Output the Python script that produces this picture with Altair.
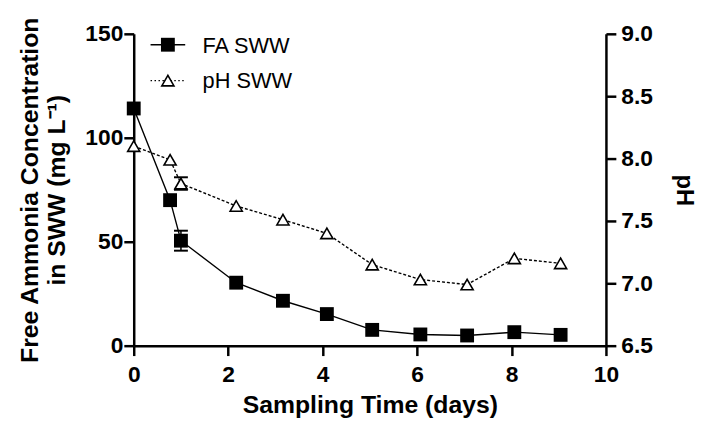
import altair as alt
import pandas as pd

# ---- data ----
days = [0, 0.77, 1.0, 2.17, 3.16, 4.09, 5.05, 6.07, 7.06, 8.06, 9.04]
fa_sww = [114.1, 70.0, 50.5, 30.3, 21.6, 15.2, 7.6, 5.4, 4.9, 6.5, 5.2]
ph_sww = [8.10, 7.99, 7.80, 7.62, 7.51, 7.40, 7.15, 7.03, 6.99, 7.20, 7.16]

err_day = [1.0]
fa_err = [4.8]
ph_err = [0.05]

x_ticks = [0, 2, 4, 6, 8, 10]
fa_ticks = [0, 50, 100, 150]
ph_ticks = [6.5, 7.0, 7.5, 8.0, 8.5, 9.0]

series_names = ["FA SWW", "pH SWW"]

FONT = "Liberation Sans"

df = pd.DataFrame({"day": days, "fa": fa_sww, "ph": ph_sww})
fa_at = [fa_sww[days.index(d)] for d in err_day]
ph_at = [ph_sww[days.index(d)] for d in err_day]
err = pd.DataFrame({
    "day": err_day,
    "fa_lo": [f - e for f, e in zip(fa_at, fa_err)],
    "fa_hi": [f + e for f, e in zip(fa_at, fa_err)],
    "ph_lo": [p - e for p, e in zip(ph_at, ph_err)],
    "ph_hi": [p + e for p, e in zip(ph_at, ph_err)],
})

x_enc = alt.X(
    "day:Q",
    scale=alt.Scale(domain=[0, 10], nice=False, zero=False),
    axis=alt.Axis(
        values=x_ticks, format="d", title="Sampling Time (days)",
        grid=False, labelFlush=False, labelOverlap=False,
        tickSize=10, tickWidth=2.5, domainWidth=2.5, labelPadding=8,
        labelFontSize=23, labelFontWeight="bold", labelFont=FONT,
        titleFontSize=25, titleFontWeight="bold", titleFont=FONT,
        titleX=238.5, titleY=68, titleBaseline="alphabetic", titleAlign="center",
        domainColor="black", tickColor="black", labelColor="black", titleColor="black",
    ),
)

fa_scale = alt.Scale(domain=[0, 150], nice=False, zero=False)
ph_scale = alt.Scale(domain=[6.5, 9.0], nice=False, zero=False)

fa_axis = alt.Axis(
    orient="left", values=fa_ticks, format="d",
    title=["Free Ammonia Concentration", "in SWW (mg L\u207b\u00b9)"],
    grid=False, labelFlush=False, labelOverlap=False,
    tickSize=10, tickWidth=2.5, domainWidth=2.5, labelPadding=1,
    labelFontSize=23, labelFontWeight="bold", labelFont=FONT,
    titleFontSize=25, titleFontWeight="bold", titleFont=FONT,
    titleAngle=270, titleX=-97, titleY=157.5, titleBaseline="alphabetic",
    titleAlign="center", titleLineHeight=27,
    domainColor="black", tickColor="black", labelColor="black", titleColor="black",
)

ph_axis = alt.Axis(
    orient="right", values=ph_ticks, format=".1f", title="pH",
    grid=False, labelFlush=False, labelOverlap=False,
    tickSize=10, tickWidth=2.5, domainWidth=2.5, labelPadding=5,
    labelFontSize=23, labelFontWeight="bold", labelFont=FONT,
    titleFontSize=24, titleFontWeight="bold", titleFont=FONT,
    titleAngle=90, titleX=71, titleY=157.5, titleBaseline="alphabetic",
    titleAlign="center",
    domainColor="black", tickColor="black", labelColor="black", titleColor="black",
)

base = alt.Chart(df)
ebase = alt.Chart(err)

fa_line = base.mark_line(color="black", strokeWidth=1.4).encode(
    x=x_enc, y=alt.Y("fa:Q", scale=fa_scale, axis=fa_axis))
fa_err_rule = ebase.mark_rule(color="black", strokeWidth=1.5, opacity=1).encode(
    x="day:Q", y="fa_lo:Q", y2="fa_hi:Q")
fa_err_lo = ebase.mark_tick(color="black", orient="horizontal", size=14, thickness=2,
                            opacity=1).encode(x="day:Q", y="fa_lo:Q")
fa_err_hi = ebase.mark_tick(color="black", orient="horizontal", size=14, thickness=2,
                            opacity=1).encode(x="day:Q", y="fa_hi:Q")
fa_pts = base.mark_point(shape="square", filled=True, color="black", size=196, opacity=1).encode(
    x="day:Q", y="fa:Q")

fa_layer = alt.layer(fa_line, fa_err_rule, fa_err_lo, fa_err_hi, fa_pts)

ph_line = base.mark_line(color="black", strokeWidth=1.4, strokeDash=[3, 2]).encode(
    x="day:Q", y=alt.Y("ph:Q", scale=ph_scale, axis=ph_axis))
ph_err_rule = ebase.mark_rule(color="black", strokeWidth=1.5, opacity=1).encode(
    x="day:Q", y="ph_lo:Q", y2="ph_hi:Q")
ph_err_lo = ebase.mark_tick(color="black", orient="horizontal", size=14, thickness=2,
                            opacity=1).encode(x="day:Q", y="ph_lo:Q")
ph_err_hi = ebase.mark_tick(color="black", orient="horizontal", size=14, thickness=2,
                            opacity=1).encode(x="day:Q", y="ph_hi:Q")
ph_pts = base.mark_point(shape="triangle-up", filled=True, fill="white", stroke="black",
                         strokeWidth=1.6, size=150, opacity=1).encode(
    x="day:Q", y="ph:Q")

ph_layer = alt.layer(ph_line, ph_err_rule, ph_err_lo, ph_err_hi, ph_pts)

# ---- legend (drawn in plot pixel space) ----
leg_df = pd.DataFrame({"name": series_names})
leg1 = alt.Chart(leg_df.iloc[[0]])
leg2 = alt.Chart(leg_df.iloc[[1]])

leg_fa_line = leg1.mark_rule(color="black", strokeWidth=1.4).encode(
    x=alt.value(17), x2=alt.value(52), y=alt.value(11))
leg_fa_pt = leg1.mark_point(shape="square", filled=True, color="black", size=196, opacity=1).encode(
    x=alt.value(34.5), y=alt.value(11))
leg_fa_txt = leg1.mark_text(align="left", baseline="alphabetic", fontSize=22, font=FONT,
                            color="black").encode(
    x=alt.value(69.5), y=alt.value(19.7), text="name:N")

leg_ph_line = leg2.mark_rule(color="black", strokeWidth=1.2, strokeDash=[1.5, 2.5]).encode(
    x=alt.value(17), x2=alt.value(52), y=alt.value(47.3))
leg_ph_pt = leg2.mark_point(shape="triangle-up", filled=True, fill="white", stroke="black",
                            strokeWidth=1.6, size=150, opacity=1).encode(
    x=alt.value(34.5), y=alt.value(47.3))
leg_ph_txt = leg2.mark_text(align="left", baseline="alphabetic", fontSize=22, font=FONT,
                            color="black").encode(
    x=alt.value(69.5), y=alt.value(54.7), text="name:N")

legend = alt.layer(leg_fa_line, leg_fa_pt, leg_fa_txt, leg_ph_line, leg_ph_pt, leg_ph_txt)

chart = alt.layer(fa_layer, ph_layer, legend).resolve_scale(
    y="independent"
).properties(
    width=477, height=315,
    autosize=alt.AutoSizeParams(type="none"),
    padding={"left": 127, "top": 24, "right": 94, "bottom": 75},
    background="white",
).configure_view(stroke=None)

chart.save("out.html", embed_options={"renderer": "svg", "actions": False})
